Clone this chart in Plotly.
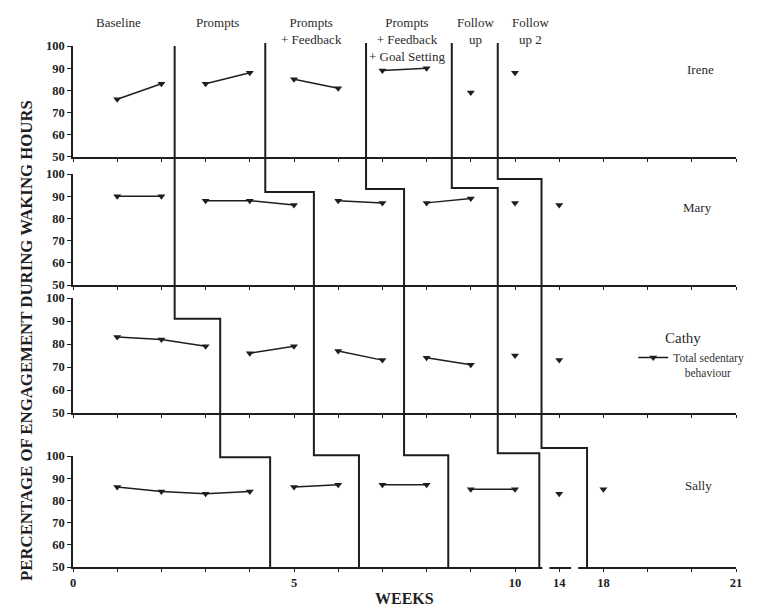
import plotly.graph_objects as go

# ---- data -------------------------------------------------------------
participants = ["Irene", "Mary", "Cathy", "Sally"]
phase_labels = ["Baseline", "Prompts", "Prompts<br>+ Feedback",
                "Prompts<br>+ Feedback<br>+ Goal Setting", "Follow<br>up", "Follow<br>up 2"]

# axis positions of the observations (positions 11 and 12 are weeks 14 and 18)
irene_weeks = [[1, 2], [3, 4], [5, 6], [7, 8], [9], [10]]
irene_vals = [[76, 83], [83, 88], [85, 81], [89, 90], [79], [88]]
mary_weeks = [[1, 2], [3, 4, 5], [6, 7], [8, 9], [10], [11]]
mary_vals = [[90, 90], [88, 88, 86], [88, 87], [87, 89], [87], [86]]
cathy_weeks = [[1, 2, 3], [4, 5], [6, 7], [8, 9], [10], [11]]
cathy_vals = [[83, 82, 79], [76, 79], [77, 73], [74, 71], [75], [73]]
sally_weeks = [[1, 2, 3, 4], [5, 6], [7, 8], [9, 10], [11], [12]]
sally_vals = [[86, 84, 83, 84], [86, 87], [87, 87], [85, 85], [83], [85]]

tick_positions = list(range(16))
tick_text = ["0", "", "", "", "", "5", "", "", "", "", "10", "14", "18", "", "", "21"]
y_ticks = [50, 60, 70, 80, 90, 100]

# phase-change lines: position of each change for each participant
phase_change_x = {
    "Irene": [2.3, 4.35, 6.63, 8.57, 9.61],
    "Mary": [2.3, 5.45, 7.49, 9.61, 10.6],
    "Cathy": [3.33, 5.45, 7.49, 9.61, 10.6],
    "Sally": [4.46, 6.47, 8.49, 10.55, 11.63],
}
# level (in the participant's own scale) where a change line steps across
step_level = {
    "Mary": [None, 91.9, 93.2, 93.7, 97.7],
    "Cathy": [91.0, None, None, None, None],
    "Sally": [99.5, 100.4, 100.4, 101.3, 103.6],
}
line_top = [100.0, 101.4, 101.4, 101.4, 101.4]

# breaks in the bottom axis between 10, 14 and 18
axis_breaks = [[10.62, 10.78], [11.27, 11.43]]

series = {
    "Irene": (irene_weeks, irene_vals),
    "Mary": (mary_weeks, mary_vals),
    "Cathy": (cathy_weeks, cathy_vals),
    "Sally": (sally_weeks, sally_vals),
}

# ---- layout geometry ----------------------------------------------------
X_MIN, X_MAX = 0, 15
Y_MIN, Y_MAX = 50, 100
domains = {
    "Irene": [0.7780, 0.9886],
    "Mary": [0.5351, 0.7457],
    "Cathy": [0.2922, 0.5104],
    "Sally": [0.0, 0.2106],
}
axis_ids = {"Irene": "", "Mary": "2", "Cathy": "3", "Sally": "4"}

SERIF = "Liberation Serif, Times New Roman, serif"
INK = "#1e1e1e"


def px(pos):
    return (pos - X_MIN) / (X_MAX - X_MIN)


def py(name, value):
    d0, d1 = domains[name]
    return d0 + (value - Y_MIN) / (Y_MAX - Y_MIN) * (d1 - d0)


fig = go.Figure()

first = True
for name in participants:
    weeks, vals = series[name]
    sfx = axis_ids[name]
    for w, v in zip(weeks, vals):
        fig.add_trace(go.Scatter(
            x=w, y=v, xaxis="x" + sfx, yaxis="y" + sfx,
            mode="lines+markers",
            line=dict(color=INK, width=1.5),
            marker=dict(symbol="triangle-down", size=7, color=INK),
            name="Total sedentary<br>\u00a0\u00a0\u00a0\u00a0behaviour",
            showlegend=first,
            hoverinfo="x+y",
        ))
        first = False

layout = dict(
    width=764, height=608,
    margin=dict(l=73, r=28, t=40, b=41),
    paper_bgcolor="white", plot_bgcolor="white",
    font=dict(family=SERIF, color=INK),
    legend=dict(x=0.845, y=0.424, xanchor="left", yanchor="top",
                font=dict(family=SERIF, size=11.5, color="#333"),
                bgcolor="rgba(0,0,0,0)", valign="top", itemwidth=30),
)

for name in participants:
    sfx = axis_ids[name]
    bottom = name == "Sally"
    layout["xaxis" + sfx] = dict(
        range=[X_MIN, X_MAX], domain=[0, 1], anchor="y" + sfx,
        showline=True, linecolor=INK, linewidth=1.5,
        ticks="outside", ticklen=3, tickwidth=1.2, tickcolor=INK,
        tickvals=tick_positions, ticktext=tick_text,
        showticklabels=bottom, showgrid=False, zeroline=False,
        tickfont=dict(family=SERIF, size=12.5, color=INK, weight="bold"),
        fixedrange=True,
    )
    layout["yaxis" + sfx] = dict(
        range=[Y_MIN, Y_MAX], domain=domains[name], anchor="x" + sfx,
        showline=True, linecolor=INK, linewidth=1.5,
        ticks="outside", ticklen=4, tickwidth=1.2, tickcolor=INK,
        tickvals=y_ticks, showgrid=False, zeroline=False,
        tickfont=dict(family=SERIF, size=12.5, color=INK, weight="bold"),
        fixedrange=True,
    )

fig.update_layout(**layout)

shapes = []
# gaps in the bottom axis line
for g0, g1 in axis_breaks:
    shapes.append(dict(type="rect", xref="paper", yref="paper",
                       x0=px(g0), x1=px(g1), y0=-0.006, y1=0.006,
                       fillcolor="white", line=dict(width=0), layer="above"))

# stepped phase-change lines running through all panels
for k in range(5):
    x = phase_change_x["Irene"][k]
    pts = [(px(x), py("Irene", line_top[k]))]
    for name in participants[1:]:
        nx = phase_change_x[name][k]
        if nx != x:
            lvl = py(name, step_level[name][k])
            pts.append((px(x), lvl))
            pts.append((px(nx), lvl))
            x = nx
    pts.append((px(x), 0.0))
    path = "M " + " L ".join(f"{a:.5f},{b:.5f}" for a, b in pts)
    shapes.append(dict(type="path", xref="paper", yref="paper", path=path,
                       line=dict(color=INK, width=2), layer="above"))

annotations = []
# phase titles across the top
title_pos = [1.02, 3.26, 5.4, 7.55, 9.1, 10.34]
for label, pos in zip(phase_labels, title_pos):
    annotations.append(dict(text=label, x=pos, xref="x", y=1.052, yref="paper",
                            xanchor="center", yanchor="top", showarrow=False,
                            align="center", font=dict(family=SERIF, size=13, color="#2a2a2a")))

# participant names
name_pos = {"Irene": (14.19, 89.6, 13), "Mary": (14.14, 85.1, 13),
            "Cathy": (13.8, 82.6, 15), "Sally": (14.16, 86.9, 13)}
for name in participants:
    xp, yv, fs = name_pos[name]
    sfx = axis_ids[name]
    annotations.append(dict(text=name, x=xp, xref="x" + sfx, y=yv, yref="y" + sfx,
                            showarrow=False, xanchor="center", yanchor="middle",
                            font=dict(family=SERIF, size=fs, color="#2a2a2a")))

# axis titles
annotations.append(dict(text="<b>WEEKS</b>", x=0.5, xref="paper", y=-0.0595, yref="paper",
                        xanchor="center", yanchor="middle", showarrow=False,
                        font=dict(family=SERIF, size=16, color=INK)))
annotations.append(dict(text="<b>PERCENTAGE OF ENGAGEMENT DURING WAKING HOURS</b>",
                        x=-0.0709, xref="paper", y=0.4307, yref="paper", textangle=-90,
                        xanchor="center", yanchor="middle", showarrow=False,
                        font=dict(family=SERIF, size=16.8, color=INK)))

fig.update_layout(shapes=shapes, annotations=annotations)

fig.write_html("out.html")
